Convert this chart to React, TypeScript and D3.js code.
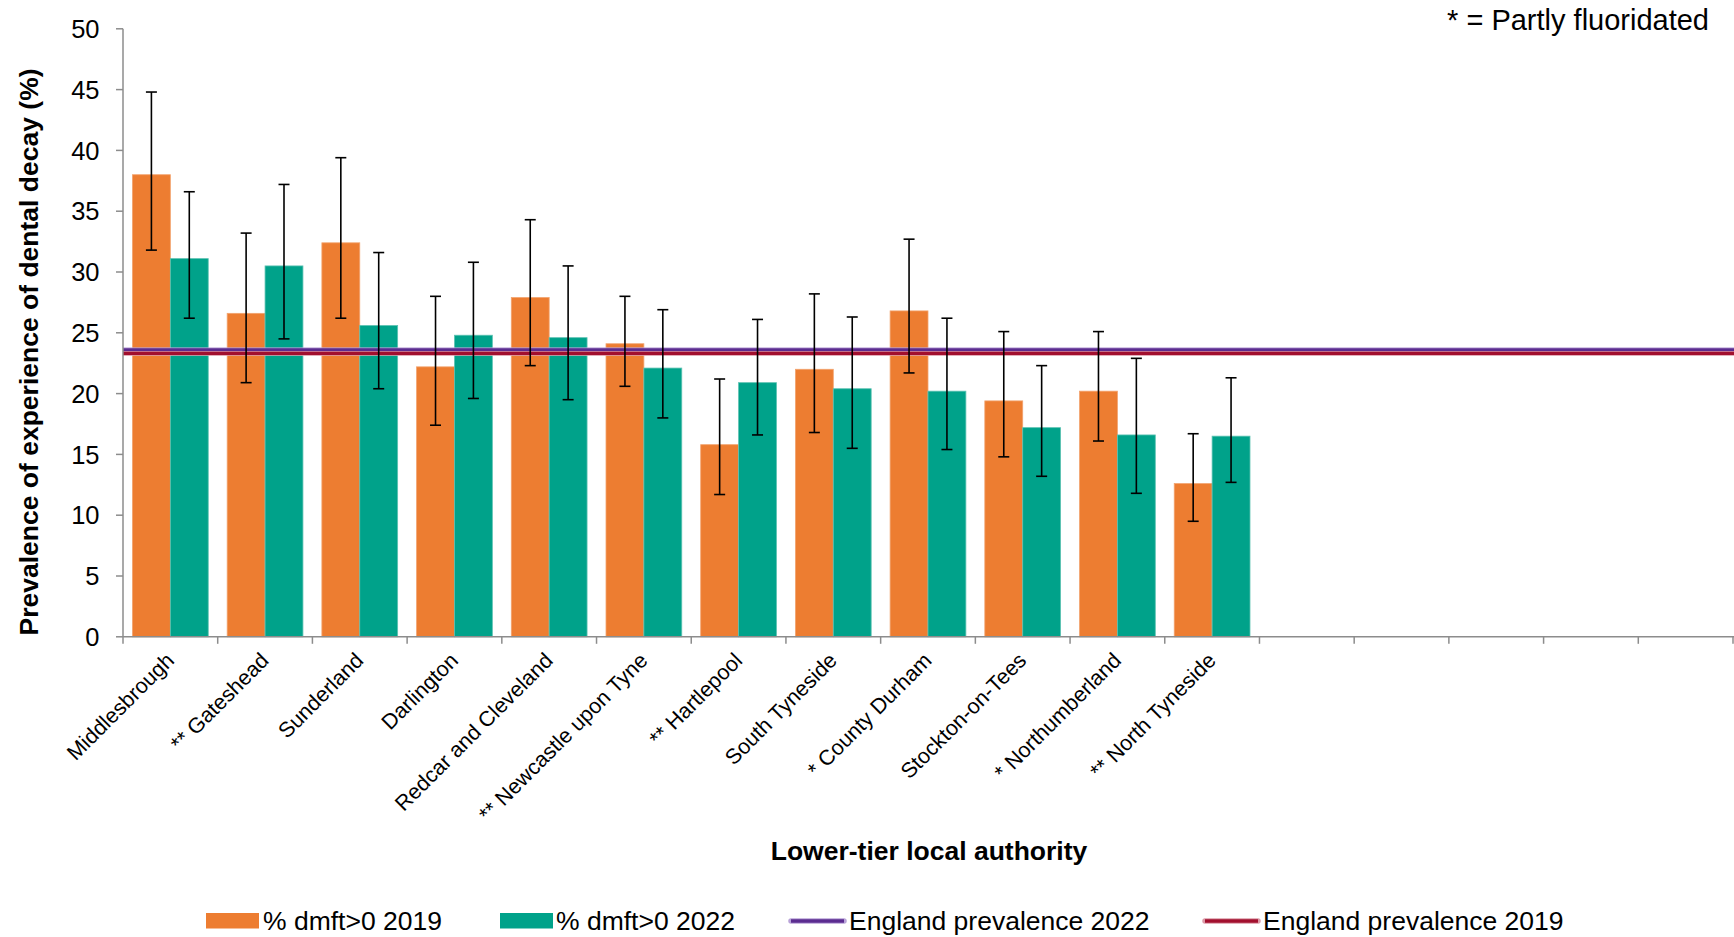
import React from "react";
import * as d3 from "d3";

const categories = [
  "Middlesbrough",
  "** Gateshead",
  "Sunderland",
  "Darlington",
  "Redcar and Cleveland",
  "** Newcastle upon Tyne",
  "** Hartlepool",
  "South Tyneside",
  "* County Durham",
  "Stockton-on-Tees",
  "* Northumberland",
  "** North Tyneside",
];
const emptySlots = ["", "", "", "", ""];

const v2019 = [38.0, 26.6, 32.4, 22.2, 27.9, 24.1, 15.8, 22.0, 26.8, 19.4, 20.2, 12.6];
const lo2019 = [31.8, 20.9, 26.2, 17.4, 22.3, 20.6, 11.7, 16.8, 21.7, 14.8, 16.1, 9.5];
const hi2019 = [44.8, 33.2, 39.4, 28.0, 34.3, 28.0, 21.2, 28.2, 32.7, 25.1, 25.1, 16.7];

const v2022 = [31.1, 30.5, 25.6, 24.8, 24.6, 22.1, 20.9, 20.4, 20.2, 17.2, 16.6, 16.5];
const lo2022 = [26.2, 24.5, 20.4, 19.6, 19.5, 18.0, 16.6, 15.5, 15.4, 13.2, 11.8, 12.7];
const hi2022 = [36.6, 37.2, 31.6, 30.8, 30.5, 26.9, 26.1, 26.3, 26.2, 22.3, 22.9, 21.3];

const england2022 = 23.6;
const england2019 = 23.3;

const yTicks = [0, 5, 10, 15, 20, 25, 30, 35, 40, 45, 50];

const W = 1734;
const H = 937;
const FONT = "'Liberation Sans', Arial, sans-serif";
const ORANGE = "#ED7D31";
const TEAL = "#00A28A";
const PURPLE = "#5B2C90";
const RED = "#A20F2E";

export default function App() {
  const left = 123;
  const right = 1733;
  const top = 28.8;
  const bottom = 636.8;

  const slots = [...categories, ...emptySlots].map((_, i) => String(i));
  const x = d3.scaleBand<string>().domain(slots).range([left, right]).padding(0);
  const y = d3.scaleLinear().domain([0, 50]).range([bottom, top]);
  const step = x.step();
  const bw = step / 2.5;
  const gap = step - 2 * bw;

  const series = [
    { vals: v2019, lo: lo2019, hi: hi2019, color: ORANGE, edge: "#F2A36E", off: 0 },
    { vals: v2022, lo: lo2022, hi: hi2022, color: TEAL, edge: "#5CC2B2", off: 1 },
  ];
  const cap = 5.5;

  const line = d3.line<[number, number]>().x((d) => d[0]).y((d) => d[1]);

  const legendItems = [
    { type: "rect", color: ORANGE, label: "% dmft>0 2019", x0: 206, tx: 263 },
    { type: "rect", color: TEAL, label: "% dmft>0 2022", x0: 500, tx: 556 },
    { type: "line", color: PURPLE, halo: "#B9A3D8", label: "England prevalence 2022", x0: 791, tx: 849 },
    { type: "line", color: RED, halo: "#DC9AA8", label: "England prevalence 2019", x0: 1205, tx: 1263 },
  ];

  return (
    <svg
      width={W}
      height={H}
      style={{ position: "absolute", left: 0, top: 0, background: "#fff" }}
      fontFamily={FONT}
    >
      {/* bars */}
      {series.map((s, si) =>
        s.vals.map((v, i) => {
          const bx = (x(String(i)) as number) + gap / 2 + s.off * bw;
          return (
            <rect
              key={`b${si}-${i}`}
              x={bx}
              y={y(v)}
              width={bw}
              height={y(0) - y(v)}
              fill={s.color}
              stroke={s.edge}
              strokeWidth={0.8}
            />
          );
        })
      )}

      {/* England lines */}
      {[
        { v: england2022, c: PURPLE, halo: "#B9A3D8" },
        { v: england2019, c: RED, halo: "#DC9AA8" },
      ].map((l, i) => (
        <g key={`e${i}`}>
          <path d={line([[left, y(l.v)], [right + 1, y(l.v)]]) as string} stroke={l.halo} strokeWidth={5} fill="none" opacity={0.8} />
          <path d={line([[left, y(l.v)], [right + 1, y(l.v)]]) as string} stroke={l.c} strokeWidth={3.2} fill="none" />
        </g>
      ))}

      {/* error bars */}
      {series.map((s, si) =>
        s.vals.map((_, i) => {
          const cx = (x(String(i)) as number) + gap / 2 + s.off * bw + bw / 2;
          return (
            <g key={`err${si}-${i}`} stroke="#000" strokeWidth={1.6}>
              <line x1={cx} x2={cx} y1={y(s.lo[i])} y2={y(s.hi[i])} />
              <line x1={cx - cap} x2={cx + cap} y1={y(s.hi[i])} y2={y(s.hi[i])} />
              <line x1={cx - cap} x2={cx + cap} y1={y(s.lo[i])} y2={y(s.lo[i])} />
            </g>
          );
        })
      )}

      {/* y axis */}
      <line x1={left} x2={left} y1={top} y2={bottom} stroke="#8C8C8C" strokeWidth={1.5} />
      {yTicks.map((t) => (
        <g key={`yt${t}`}>
          <line x1={left - 7} x2={left} y1={y(t)} y2={y(t)} stroke="#8C8C8C" strokeWidth={1.5} />
          <text x={99.5} y={y(t)} dy="0.36em" textAnchor="end" fontSize={25.5} fill="#000">
            {t}
          </text>
        </g>
      ))}

      {/* x axis */}
      <line x1={left} x2={right + 1} y1={bottom} y2={bottom} stroke="#8C8C8C" strokeWidth={1.5} />
      {slots.concat(["end"]).map((s, i) => {
        const xx = left + i * step;
        return <line key={`xt${i}`} x1={xx} x2={xx} y1={bottom} y2={bottom + 7} stroke="#8C8C8C" strokeWidth={1.5} />;
      })}
      {categories.map((c, i) => {
        const cx = (x(String(i)) as number) + step / 2 + 5;
        const cy = bottom + 25;
        return (
          <text
            key={`xl${i}`}
            transform={`translate(${cx},${cy}) rotate(-45)`}
            textAnchor="end"
            fontSize={21.5}
            fill="#000"
          >
            {c}
          </text>
        );
      })}

      {/* axis titles */}
      <text
        transform={`translate(37.5,352) rotate(-90)`}
        textAnchor="middle"
        fontSize={26.5}
        fontWeight="bold"
        fill="#000"
      >
        Prevalence of experience of dental decay (%)
      </text>
      <text x={929} y={860} textAnchor="middle" fontSize={26.5} fontWeight="bold" fill="#000">
        Lower-tier local authority
      </text>

      {/* note */}
      <text x={1709} y={30} textAnchor="end" fontSize={29} fill="#000">
        * = Partly fluoridated
      </text>

      {/* legend */}
      {legendItems.map((it, i) => (
        <g key={`lg${i}`}>
          {it.type === "rect" ? (
            <rect x={it.x0} y={913} width={53} height={15.5} fill={it.color} />
          ) : (
            <g>
              <line x1={it.x0} x2={it.x0 + 53} y1={921} y2={921} stroke={it.halo} strokeWidth={5.5} strokeLinecap="round" />
              <line x1={it.x0} x2={it.x0 + 53} y1={921} y2={921} stroke={it.color} strokeWidth={3.5} />
            </g>
          )}
          <text x={it.tx} y={929.5} fontSize={26.5} fill="#000">
            {it.label}
          </text>
        </g>
      ))}
    </svg>
  );
}
